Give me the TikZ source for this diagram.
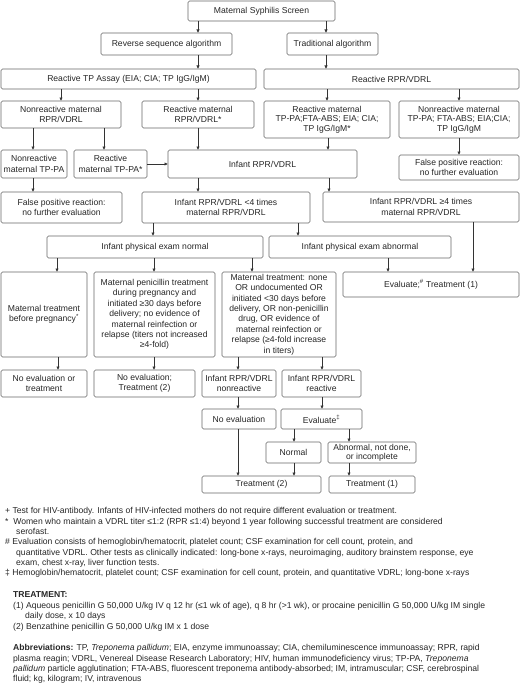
\documentclass[tikz,border=0pt]{standalone}
\usepackage{fontspec}
\setmainfont{Liberation Sans}
\usetikzlibrary{arrows.meta}
\begin{document}
\begin{tikzpicture}[x=1pt,y=-1pt,
  box/.style={draw=black!60, line width=0.6pt, rounded corners=1.5pt, align=center, inner sep=1pt,
    font=\fontsize{8.6}{10.4}\selectfont, text=black!85},
  tight/.style={font=\fontsize{8.6}{9.3}\selectfont},
  arr/.style={draw=black!80, line width=0.55pt, -{Triangle[length=3.2pt,width=3pt]}},
  fn/.style={anchor=base west, inner sep=0pt, font=\fontsize{8.6}{10.4}\selectfont, text=black!85}]
\useasboundingbox (0,0) rectangle (520,685);

% row 1-3
\node[box, minimum width=147pt, minimum height=20pt] (screen) at (261.5,11) {Maternal Syphilis Screen};
\node[box, minimum width=131pt, minimum height=22pt] (rev) at (166.5,44) {Reverse sequence algorithm};
\node[box, minimum width=91pt, minimum height=22pt] (trad) at (332.5,44) {Traditional algorithm};
\node[box, minimum width=255pt, minimum height=20pt] (tpassay) at (128.5,79) {Reactive TP Assay (EIA; CIA; TP IgG/IgM)};
\node[box, minimum width=255pt, minimum height=20pt] (rprvdrl) at (391.5,79) {Reactive RPR/VDRL};

% row 4
\node[box, minimum width=120pt, minimum height=27pt] (nonrpr) at (61,114.5) {Nonreactive maternal\\RPR/VDRL};
\node[box, minimum width=112pt, minimum height=27pt] (rearpr) at (198,114.5) {Reactive maternal\\RPR/VDRL*};
\node[box, tight, minimum width=126pt, minimum height=37pt] (retppa3) at (327,119.5) {Reactive maternal\\TP-PA;FTA-ABS; EIA; CIA;\\TP IgG/IgM*};
\node[box, tight, minimum width=120pt, minimum height=37pt] (nontppa3) at (459,119.5) {Nonreactive maternal\\TP-PA; FTA-ABS; EIA;CIA;\\TP IgG/IgM};

% row 5
\node[box, minimum width=66pt, minimum height=28pt] (nontppa) at (34,164) {Nonreactive\\maternal TP-PA};
\node[box, minimum width=73pt, minimum height=28pt] (retppa) at (110.5,164) {Reactive\\maternal TP-PA*};
\node[box, minimum width=189pt, minimum height=28pt] (infrpr) at (262.5,164) {Infant RPR/VDRL};
\node[box, minimum width=120pt, minimum height=25pt] (fpr) at (459,167.5) {False positive reaction:\\no further evaluation};

% row 6
\node[box, minimum width=121pt, minimum height=31pt] (fpl) at (61.5,207.5) {False positive reaction:\\no further evaluation};
\node[box, minimum width=168pt, minimum height=31pt] (inflt) at (226,207.5) {Infant RPR/VDRL <4 times\\maternal RPR/VDRL};
\node[box, minimum width=196pt, minimum height=30pt] (infge) at (421,207) {Infant RPR/VDRL ≥4 times\\maternal RPR/VDRL};

% row 7
\node[box, minimum width=216pt, minimum height=22pt] (pnormal) at (155,247) {Infant physical exam normal};
\node[box, minimum width=182pt, minimum height=22pt] (pabnormal) at (360,247) {Infant physical exam abnormal};
\node[box, minimum width=176pt, minimum height=25pt] (evalT1) at (431,284.5) {Evaluate;\textsuperscript{\#} Treatment (1)};

% row 8
\node[box, minimum width=86pt, minimum height=85pt] (mtbp) at (44,314.5) {Maternal treatment\\before pregnancy\textsuperscript{*}};
\node[box, minimum width=121pt, minimum height=85pt] (mpen) at (154.5,314.5) {Maternal penicillin treatment\\during pregnancy and\\initiated ≥30 days before\\delivery; no evidence of\\maternal reinfection or\\relapse (titers not increased\\≥4-fold)};
\node[box, minimum width=114pt, minimum height=85pt] (mnone) at (279,314.5) {Maternal treatment: none\\OR undocumented OR\\initiated <30 days before\\delivery, OR non-penicillin\\drug, OR evidence of\\maternal reinfection or\\relapse (≥4-fold increase\\in titers)};

% row 9
\node[box, minimum width=86pt, minimum height=27pt] (noevaltr) at (44,383.5) {No evaluation or\\treatment};
\node[box, minimum width=101pt, minimum height=27pt] (noevalT2) at (144.5,383.5) {No evaluation;\\Treatment (2)};
\node[box, minimum width=74pt, minimum height=27pt] (infnon) at (239,383.5) {Infant RPR/VDRL\\nonreactive};
\node[box, minimum width=79pt, minimum height=27pt] (infre) at (321.5,383.5) {Infant RPR/VDRL\\reactive};

% row 10-12
\node[box, minimum width=74pt, minimum height=20pt] (noeval) at (239,419) {No evaluation};
\node[box, minimum width=81pt, minimum height=20pt] (evalD) at (321.5,419) {Evaluate\textsuperscript{‡}};
\node[box, minimum width=55pt, minimum height=21pt] (normal2) at (293.5,452.5) {Normal};
\node[box, tight, minimum width=88pt, minimum height=21pt] (abndone) at (372,452.5) {Abnormal, not done,\\or incomplete};
\node[box, minimum width=119pt, minimum height=17pt] (T2) at (261.5,484.5) {Treatment (2)};
\node[box, minimum width=86pt, minimum height=17pt] (T1) at (372,484.5) {Treatment (1)};

% connectors
\draw[arr] (screen.south -| 198,0) -- (rev.north -| 198,0);
\draw[arr] (screen.south -| 326,0) -- (trad.north -| 326,0);
\draw[arr] (rev.south -| 198,0) -- (tpassay.north -| 198,0);
\draw[arr] (trad.south -| 326,0) -- (rprvdrl.north -| 326,0);
\draw[arr] (tpassay.south -| 61,0) -- (nonrpr.north -| 61,0);
\draw[arr] (tpassay.south -| 198,0) -- (rearpr.north -| 198,0);
\draw[arr] (rprvdrl.south -| 327,0) -- (retppa3.north -| 327,0);
\draw[arr] (rprvdrl.south -| 459,0) -- (nontppa3.north -| 459,0);
\draw[arr] (nonrpr.south -| 33,0) -- (nontppa.north -| 33,0);
\draw[arr] (nonrpr.south -| 104,0) -- (retppa.north -| 104,0);
\draw[arr] (retppa.east) -- (infrpr.west |- retppa.east);
\draw[arr] (rearpr.south -| 198,0) -- (infrpr.north -| 198,0);
\draw[arr] (retppa3.south -| 328,0) -- (infrpr.north -| 328,0);
\draw[arr] (nontppa3.south -| 459,0) -- (fpr.north -| 459,0);
\draw[arr] (nontppa.south -| 33,0) -- (fpl.north -| 33,0);
\draw[arr] (infrpr.south -| 198,0) -- (inflt.north -| 198,0);
\draw[arr] (infrpr.south -| 329,0) -- (infge.north -| 329,0);
\draw[arr] (inflt.south -| 153,0) -- (pnormal.north -| 153,0);
\draw[arr] (inflt.south -| 298,0) -- (pabnormal.north -| 298,0);
\draw[arr] (pabnormal.south -| 388,0) -- (evalT1.north -| 388,0);
\draw[arr] (infge.south -| 473,0) -- (evalT1.north -| 473,0);
\draw[arr] (pnormal.south -| 57,0) -- (mtbp.north -| 57,0);
\draw[arr] (pnormal.south -| 154,0) -- (mpen.north -| 154,0);
\draw[arr] (pnormal.south -| 252,0) -- (mnone.north -| 252,0);
\draw[arr] (mtbp.south -| 58,0) -- (noevaltr.north -| 58,0);
\draw[arr] (mpen.south -| 154,0) -- (noevalT2.north -| 154,0);
\draw[arr] (mnone.south -| 238,0) -- (infnon.north -| 238,0);
\draw[arr] (mnone.south -| 322,0) -- (infre.north -| 322,0);
\draw[arr] (infnon.south -| 238,0) -- (noeval.north -| 238,0);
\draw[arr] (infre.south -| 322,0) -- (evalD.north -| 322,0);
\draw[arr] (evalD.south -| 294,0) -- (normal2.north -| 294,0);
\draw[arr] (evalD.south -| 349,0) -- (abndone.north -| 349,0);
\draw[arr] (noeval.south -| 238,0) -- (T2.north -| 238,0);
\draw[arr] (normal2.south -| 294,0) -- (T2.north -| 294,0);
\draw[arr] (abndone.south -| 349,0) -- (T1.north -| 349,0);

% footnotes
\node[fn] (fn1) at (5,513.8) {+ Test for HIV-antibody. Infants of HIV-infected mothers do not require different evaluation or treatment.};
\node[fn] (fn2) at (5,524.1) {*\ \ Women who maintain a VDRL titer ≤1:2 (RPR ≤1:4) beyond 1 year following successful treatment are considered};
\node[fn] (fn2b) at (16,534.4) {serofast.};
\node[fn] (fn3) at (5,544.8) {\# Evaluation consists of hemoglobin/hematocrit, platelet count; CSF examination for cell count, protein, and};
\node[fn] (fn3b) at (16,555.1) {quantitative VDRL. Other tests as clinically indicated: long-bone x-rays, neuroimaging, auditory brainstem response, eye};
\node[fn] (fn3c) at (16,565.4) {exam, chest x-ray, liver function tests.};
\node[fn] (fn4) at (5,575.8) {‡ Hemoglobin/hematocrit, platelet count; CSF examination for cell count, protein, and quantitative VDRL; long-bone x-rays};

\node[fn] (tr0) at (13,597.8) {\textbf{TREATMENT:}};
\node[fn] (tr1) at (13,608.8) {(1) Aqueous penicillin G 50,000 U/kg IV q 12 hr (≤1 wk of age), q 8 hr (>1 wk), or procaine penicillin G 50,000 U/kg IM single};
\node[fn] (tr1b) at (25,618.8) {daily dose, x 10 days};
\node[fn] (tr2) at (13,629.5) {(2) Benzathine penicillin G 50,000 U/kg IM x 1 dose};

\node[fn] (ab1) at (13,650.5) {\textbf{Abbreviations:} TP, \textit{Treponema pallidum}; EIA, enzyme immunoassay; CIA, chemiluminescence immunoassay; RPR, rapid};
\node[fn] (ab2) at (13,661.0) {plasma reagin; VDRL, Venereal Disease Research Laboratory; HIV, human immunodeficiency virus; TP-PA, \textit{Treponema}};
\node[fn] (ab3) at (13,671.1) {\textit{pallidum} particle agglutination; FTA-ABS, fluorescent treponema antibody-absorbed; IM, intramuscular; CSF, cerebrospinal};
\node[fn] (ab4) at (13,681.6) {fluid; kg, kilogram; IV, intravenous};
\end{tikzpicture}
\end{document}
